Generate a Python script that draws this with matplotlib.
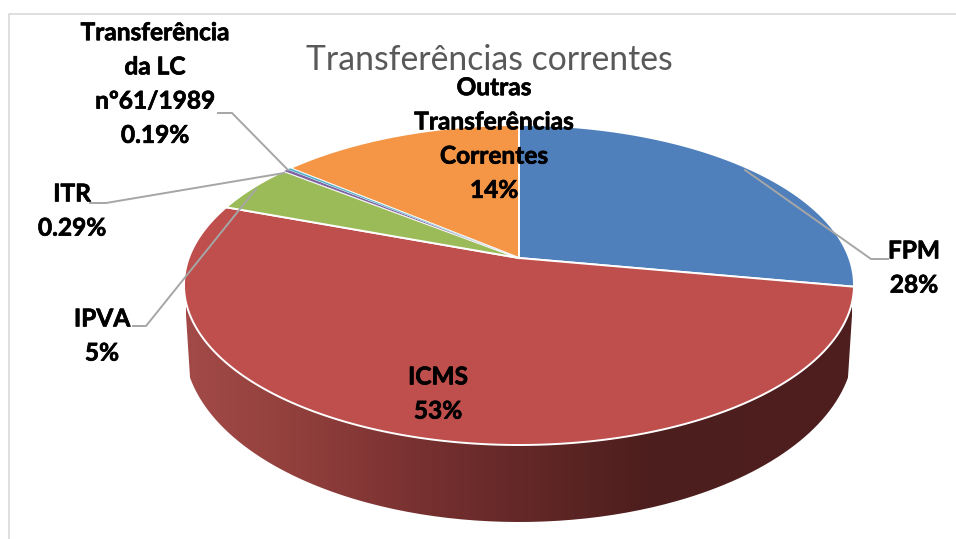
import numpy as np
import matplotlib
matplotlib.use("Agg")
import matplotlib.pyplot as plt
import matplotlib.patheffects as pe
from matplotlib.path import Path
from matplotlib.patches import PathPatch
from matplotlib.transforms import Transform, Affine2D
from matplotlib.colors import LinearSegmentedColormap

categories = ["FPM", "ICMS", "IPVA", "ITR", "Transferência da LC nº61/1989", "Outras Transferências Correntes"]
values = [28, 53, 5, 0.29, 0.19, 14]
value_labels = ["28%", "53%", "5%", "0.29%", "0.19%", "14%"]
colors = ["#4F80BC", "#BE4F4D", "#9BBB59", "#8064A2", "#4BACC6", "#F49646"]
title = "Transferências correntes"
display_names = ["FPM", "ICMS", "IPVA", "ITR", "Transferência\nda LC\nnº61/1989", "Outras\nTransferências\nCorrentes"]

W, H = 956, 539
CX, CY, RX, RY, APEX = 519, 285, 335, 160, 27


class PiePerspective(Transform):
    """Projects the unit pie onto the tilted disc, in pixel coordinates."""
    input_dims = output_dims = 2
    is_separable = False
    has_inverse = False

    def transform_non_affine(self, xy):
        xy = np.asarray(xy, float)
        c = APEX / RY
        d = RX * np.sqrt(1 - c * c)
        w = 1 + c * xy[:, 1]
        return np.column_stack((CX + d * xy[:, 0] / w, CY - (RY * xy[:, 1] + APEX) / w))

    def transform_path_non_affine(self, path):
        poly = path.to_polygons(Affine2D().scale(3000), closed_only=False)[0] / 3000
        return Path(self.transform_non_affine(poly))


fig = plt.figure(figsize=(W / 100, H / 100), dpi=100, facecolor="white")
ax = fig.add_axes([0, 0, 1, 1])

wedges, _ = ax.pie(values, colors=colors, startangle=90, counterclock=False,
                   wedgeprops=dict(edgecolor="white", linewidth=1.4))
ax.set_aspect("auto")
ax.set_xlim(0, W)
ax.set_ylim(H, 0)
ax.axis("off")

proj = PiePerspective() + ax.transData
for w, v in zip(wedges, values):
    w.set_transform(proj)
    w.set_clip_on(False)
    w.set_zorder(3)
    if v < 1:
        w.set_linewidth(0.2)
        w.set_zorder(3.5)

# frame of the chart area
ax.plot([9.5, 9.5, 956], [539, 13.5, 13.5], color="#D9D9D9", lw=1.2, zorder=1)

# side wall of the disc
t = np.linspace(np.pi - 0.19, 0.19, 200)
wall_x = np.r_[CX - 334, CX + 335 * np.cos(t), CX + 334]
wall_y = np.r_[300, 344 + 178 * np.sin(t), 300]
wall = PathPatch(Path(np.column_stack((wall_x, wall_y))), transform=ax.transData, fc="none", ec="none")
ax.add_patch(wall)
stops = [(0.0, "#A24A47"), (0.17, "#913F3C"), (0.37, "#752F2F"), (0.70, "#4C1E1D"), (1.0, "#4E1F1E")]
cmap = LinearSegmentedColormap.from_list("wall", stops)
img = ax.imshow(np.linspace(0, 1, 600)[None, :], cmap=cmap, aspect="auto",
                extent=(186, 852, H, 0), zorder=2, interpolation="bilinear")
img.set_clip_path(wall)
ax.set_xlim(0, W)
ax.set_ylim(H, 0)

# leader lines
leader = dict(color="#A6A6A6", lw=1.4, zorder=4, solid_joinstyle="round")
ax.plot([218, 232, 288], [113, 113, 170], **leader)
ax.plot([90, 106, 284], [203, 203, 173], **leader)
ax.plot([133, 146, 256], [326, 326, 189], **leader)
ax.plot([888, 871, 745], [259, 259, 170], **leader)

font = dict(family="Lato", fontweight="bold", fontsize=17.6, color="black",
            ha="center", va="center", linespacing=1.59, zorder=6,
            path_effects=[pe.withStroke(linewidth=0.5, foreground="black")])
ax.text(914, 268, f"{display_names[0]}\n{value_labels[0]}", **font)
ax.text(438, 394, f"{display_names[1]}\n{value_labels[1]}", **font)
ax.text(102, 336, f"{display_names[2]}\n{value_labels[2]}", **font)
ax.text(72, 211, f"{display_names[3]}\n{value_labels[3]}", **font)
ax.text(155, 84, f"{display_names[4]}\n{value_labels[4]}", **font)
ax.text(494, 139, f"{display_names[5]}\n{value_labels[5]}", **font)

ax.text(489, 60, title, family="Lato", fontsize=24.3, color="#595959", ha="center", va="center", zorder=5)

fig.savefig("out.png", dpi=100)
